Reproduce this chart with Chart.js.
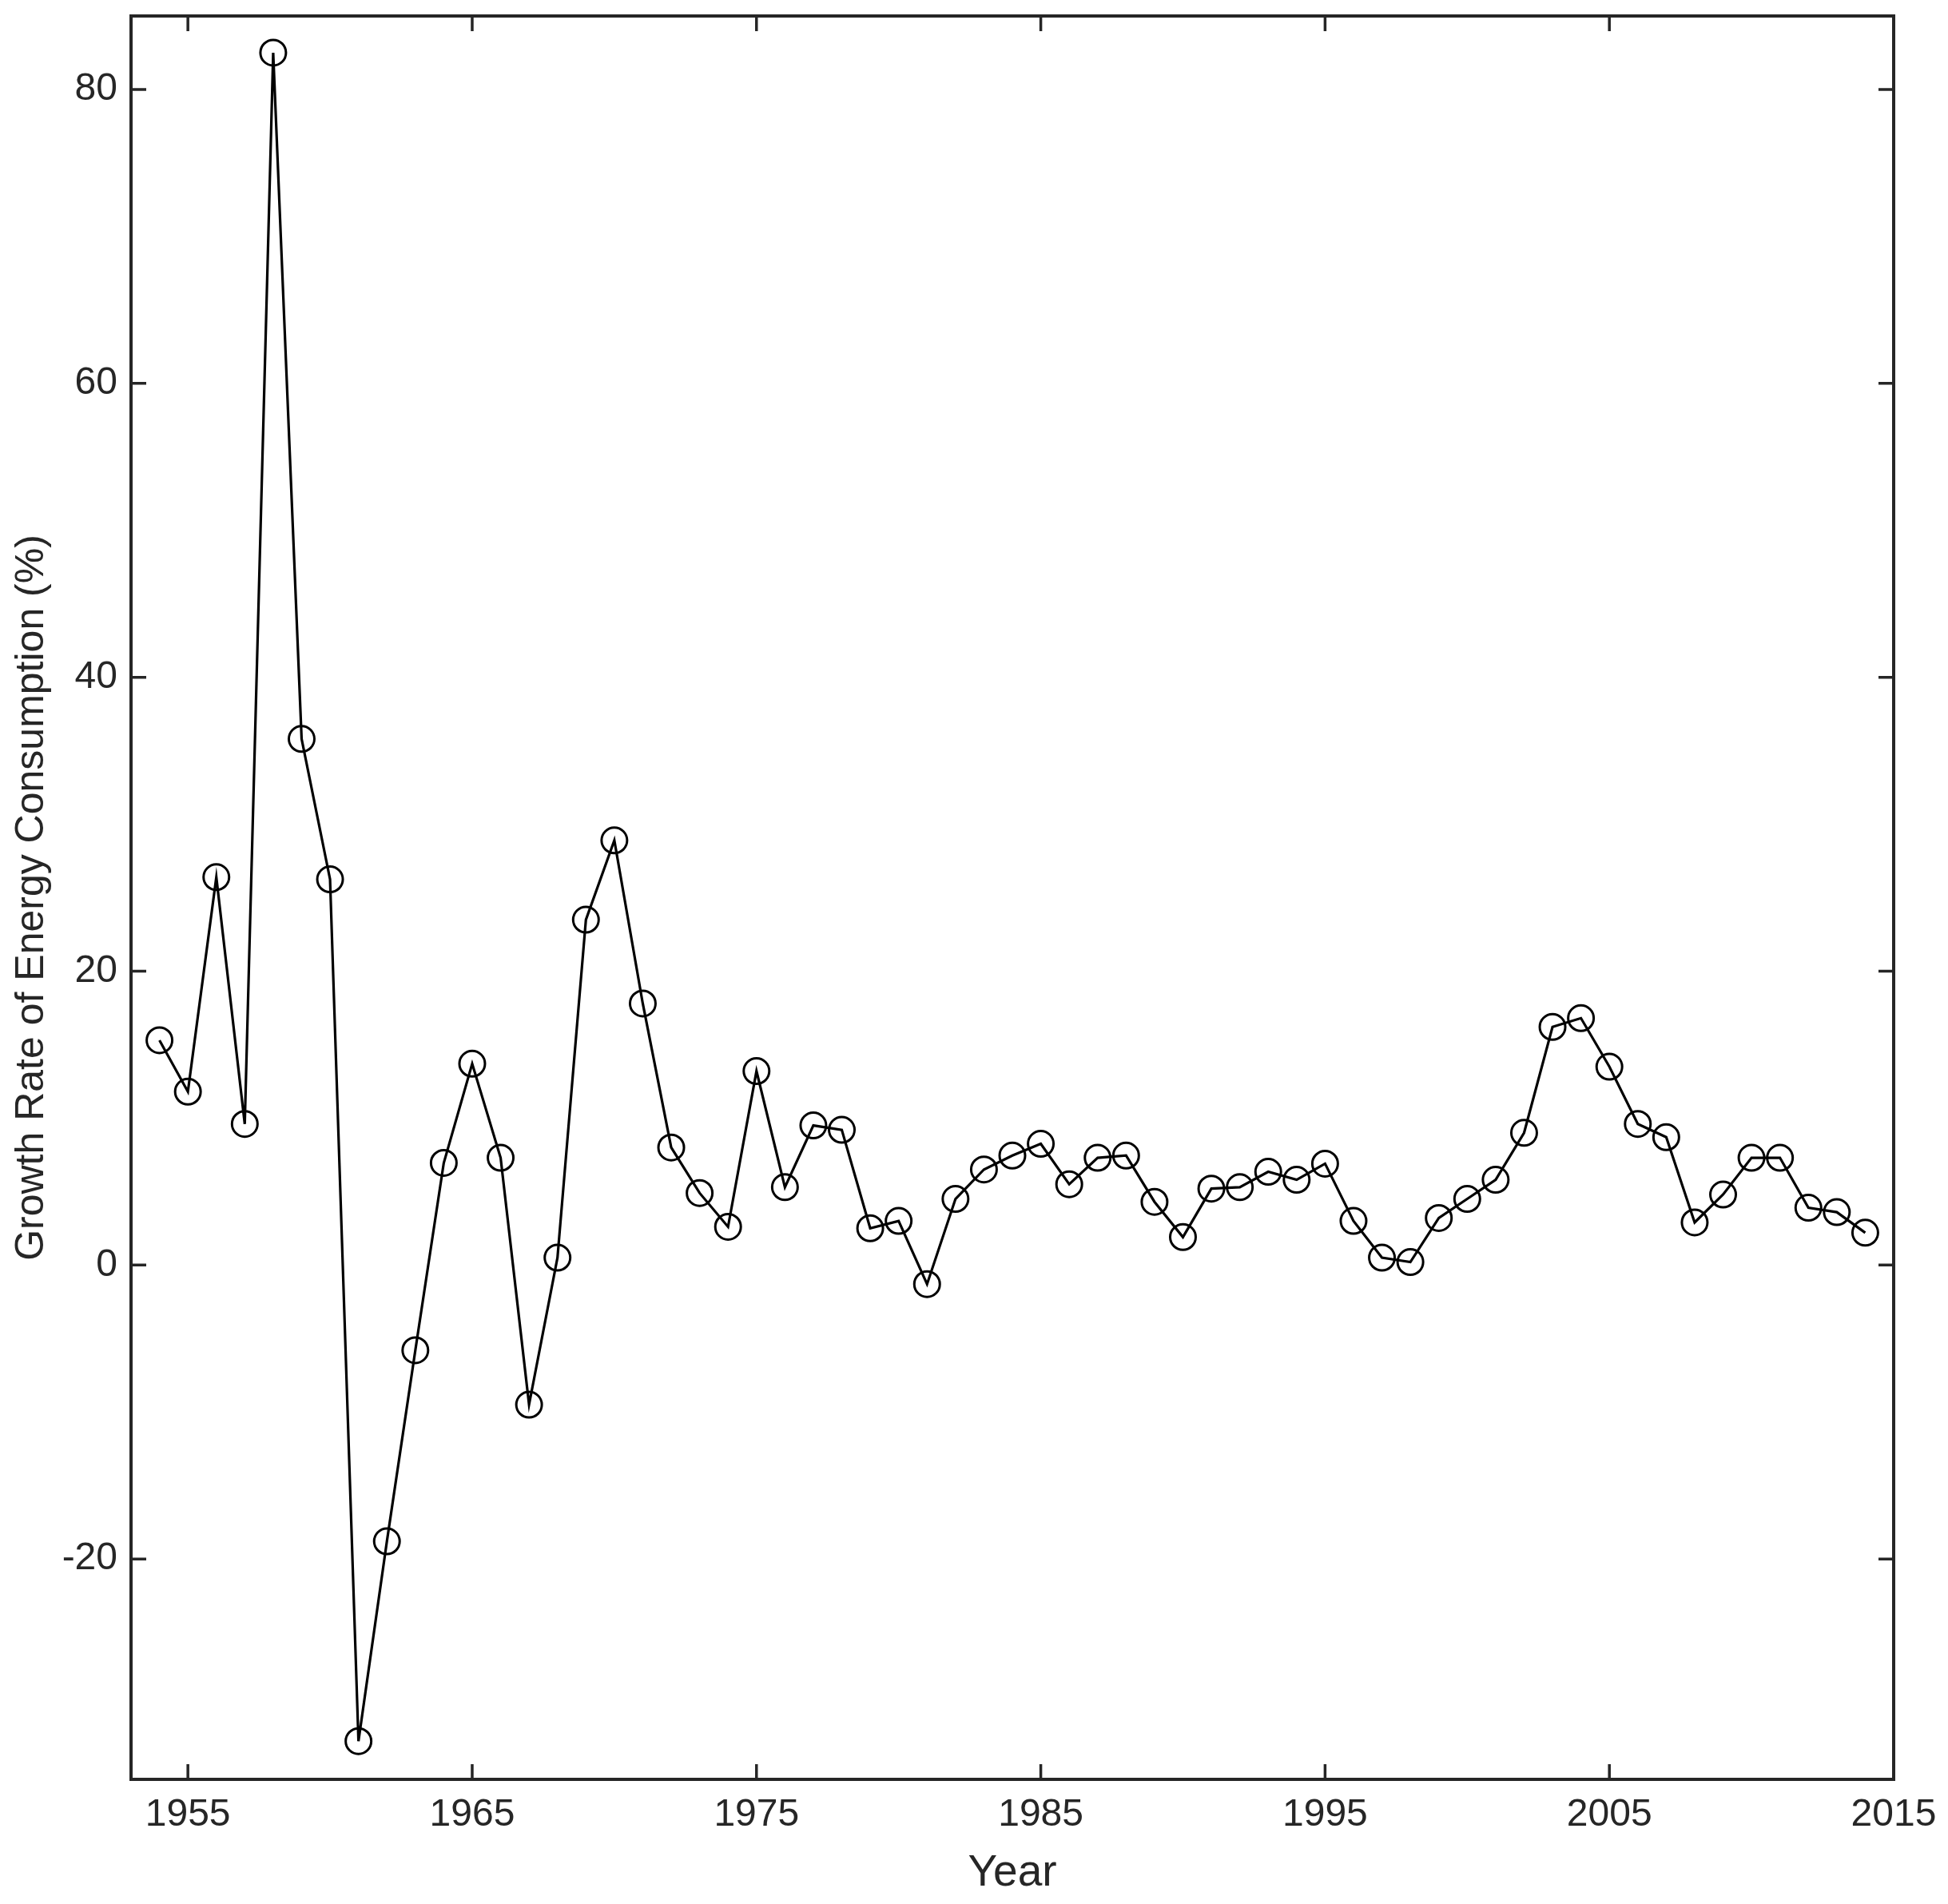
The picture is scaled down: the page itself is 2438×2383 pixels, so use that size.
<!DOCTYPE html>
<html>
<head>
<meta charset="utf-8">
<script src="https://cdn.jsdelivr.net/npm/chart.js@4/dist/chart.umd.min.js"></script>
<style>
  html, body { margin: 0; padding: 0; background: #fff; }
  #wrap { width: 2438px; height: 2383px; }
</style>
</head>
<body>
<div id="wrap"><canvas id="myChart" width="2438" height="2383"></canvas></div>
<script>
const years = [
    1954, 1955, 1956, 1957, 1958, 1959, 1960, 1961, 1962, 1963,
    1964, 1965, 1966, 1967, 1968, 1969, 1970, 1971, 1972, 1973,
    1974, 1975, 1976, 1977, 1978, 1979, 1980, 1981, 1982, 1983,
    1984, 1985, 1986, 1987, 1988, 1989, 1990, 1991, 1992, 1993,
    1994, 1995, 1996, 1997, 1998, 1999, 2000, 2001, 2002, 2003,
    2004, 2005, 2006, 2007, 2008, 2009, 2010, 2011, 2012, 2013,
    2014
];
const growthRate = [
    15.3, 11.8, 26.4, 9.6, 82.5, 35.8, 26.25, -32.4, -18.8, -5.8,
    6.95, 13.7, 7.3, -9.5, 0.5, 23.5, 28.9, 17.8, 8.0, 4.9,
    2.6, 13.2, 5.3, 9.5, 9.2, 2.5, 3.0, -1.3, 4.5, 6.5,
    7.45, 8.25, 5.5, 7.3, 7.45, 4.3, 1.9, 5.2, 5.3, 6.35,
    5.8, 6.9, 3.0, 0.5, 0.2, 3.2, 4.5, 5.8, 9.0, 16.2,
    16.8, 13.5, 9.6, 8.7, 2.9, 4.8, 7.3, 7.3, 3.9, 3.6,
    2.2
];
const xTicks = [1955, 1965, 1975, 1985, 1995, 2005, 2015];
const yTicks = [-20, 0, 20, 40, 60, 80];

const axisColor = '#262626';
const fontFamily = "'Liberation Sans', Arial, sans-serif";

// MATLAB style box with inward ticks on all four sides
const boxTicks = {
    id: 'boxTicks',
    afterDraw(chart) {
        const ctx = chart.ctx;
        const a = chart.chartArea;
        const xs = chart.scales.x;
        const ys = chart.scales.y;
        const len = 19;
        ctx.save();
        ctx.strokeStyle = axisColor;
        ctx.lineWidth = 3.5;
        ctx.beginPath();
        xTicks.forEach(v => {
            const px = xs.getPixelForValue(v);
            ctx.moveTo(px, a.bottom); ctx.lineTo(px, a.bottom - len);
            ctx.moveTo(px, a.top); ctx.lineTo(px, a.top + len);
        });
        yTicks.forEach(v => {
            const py = ys.getPixelForValue(v);
            ctx.moveTo(a.left, py); ctx.lineTo(a.left + len, py);
            ctx.moveTo(a.right, py); ctx.lineTo(a.right - len, py);
        });
        ctx.stroke();
        ctx.lineWidth = 4;
        ctx.strokeRect(a.left, a.top, a.right - a.left, a.bottom - a.top);
        ctx.restore();
    }
};

new Chart(document.getElementById('myChart'), {
    type: 'line',
    data: {
        datasets: [{
            label: 'Growth Rate',
            data: years.map((yr, i) => ({ x: yr, y: growthRate[i] })),
            borderColor: '#000',
            borderWidth: 3.2,
            pointStyle: 'circle',
            pointRadius: 16,
            pointBorderWidth: 3,
            pointBorderColor: '#000',
            pointBackgroundColor: 'rgba(0,0,0,0)',
            tension: 0
        }]
    },
    options: {
        responsive: false,
        animation: false,
        devicePixelRatio: 1,
        layout: { padding: { top: 20, right: 68, left: 0, bottom: 0 } },
        plugins: {
            legend: { display: false },
            tooltip: { enabled: false }
        },
        scales: {
            x: {
                type: 'linear',
                min: 1953,
                max: 2015,
                afterBuildTicks: s => { s.ticks = xTicks.map(v => ({ value: v })); },
                afterFit: s => { s.height = 156; s.paddingLeft = 0; s.paddingRight = 0; },
                grid: { display: false, drawTicks: false },
                border: { display: false },
                ticks: {
                    color: axisColor,
                    padding: 16,
                    maxRotation: 0,
                    autoSkip: false,
                    font: { family: fontFamily, size: 48 },
                    callback: v => String(v)
                },
                title: {
                    display: true,
                    text: 'Year',
                    color: axisColor,
                    padding: { top: 0, bottom: 5 },
                    font: { family: fontFamily, size: 55 }
                }
            },
            y: {
                type: 'linear',
                min: -35,
                max: 85,
                afterBuildTicks: s => { s.ticks = yTicks.map(v => ({ value: v })); },
                afterFit: s => { s.width = 164; s.paddingTop = 0; s.paddingBottom = 0; },
                grid: { display: false, drawTicks: false },
                border: { display: false },
                ticks: {
                    color: axisColor,
                    padding: 17,
                    autoSkip: false,
                    font: { family: fontFamily, size: 48 },
                    callback: v => String(v)
                },
                title: {
                    display: true,
                    text: 'Growth Rate of Energy Consumption (%)',
                    color: axisColor,
                    padding: { top: 10, bottom: 0 },
                    font: { family: fontFamily, size: 50 }
                }
            }
        }
    },
    plugins: [boxTicks]
});
</script>
</body>
</html>
